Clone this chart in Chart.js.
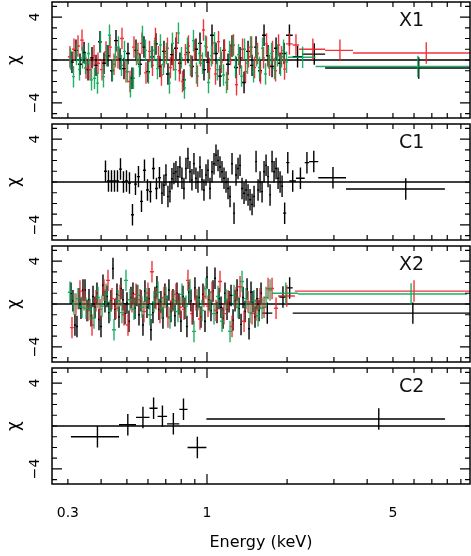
<!DOCTYPE html>
<html><head><meta charset="utf-8">
<script src="https://cdn.jsdelivr.net/npm/chart.js@4.4.1/dist/chart.umd.min.js"></script>
<style>
html,body{margin:0;padding:0;background:#fff;}
#wrap{position:relative;width:471px;height:556px;overflow:hidden;}
canvas{position:absolute;left:0;}
</style></head><body><div id="wrap">
<canvas id="p0" width="471" height="120" style="top:0px"></canvas>
<canvas id="p1" width="471" height="120" style="top:122px"></canvas>
<canvas id="p2" width="471" height="120" style="top:244px"></canvas>
<canvas id="p3" width="471" height="190" style="top:366px"></canvas>
</div>
<script>
// ---------- axis / tick data ----------
const xTickValues = [0.3,0.4,0.5,0.6,0.7,0.8,0.9,1,2,3,4,5,6,7,8,9];
const xMajorTicks = [1];
const xLabelValues = [0.3,1,5];
const yTickValues = [-5,-4,-3,-2,-1,0,1,2,3,4,5];
const yMajorTicks = [-4,4];
const yLabelValues = [-4,4];
const panelNames = ['X1','C1','X2','C2'];

// ---------- panel X1 ----------
const x1BlackEdges = [0.3055,0.3162,0.3274,0.3390,0.3510,0.3633,0.3761,0.3893,0.4030,0.4172,
0.4319,0.4471,0.4629,0.4792,0.4960,0.5135,0.5316,0.5503,0.5696,0.5897,
0.6105,0.6320,0.6542,0.6772,0.7011,0.7257,0.7513,0.7778,0.8051,0.8335,
0.8629,0.8934,0.9250,0.9576,0.9913,1.0264,1.0625,1.1000,1.1388,1.1790,
1.2206,1.2636,1.3082,1.3543,1.4021,1.4512,1.5023,1.5553,1.6101,1.6668,
1.7256,1.7864,1.8494,1.9145,1.9819,2.10,2.28,2.78,9.72];
const x1BlackResid = [-0.2,0.9,-0.4,0.7,-0.9,0.2,-0.5,1.7,-0.3,0.4,
-1.0,1.8,0.1,-0.8,0.6,-1.7,0.9,-0.4,1.2,-1.1,
0.3,1.5,-0.6,0.8,-1.3,0.5,1.1,-0.3,-1.85,0.7,
-0.6,1.0,1.55,-0.9,-0.2,2.3,0.6,-1.5,0.9,-0.4,
1.3,-0.7,0.2,-2.1,0.8,-0.5,1.2,-1.0,2.3,0.4,
-0.6,1.1,-0.3,0.6,2.3,0.3,0.55,-0.75];

const x1RedEdges = [0.3000,0.3109,0.3218,0.3332,0.3449,0.3571,0.3697,0.3826,0.3961,0.4101,
0.4245,0.4395,0.4549,0.4709,0.4875,0.5047,0.5224,0.5408,0.5599,0.5796,0.6000,
0.6158,0.6320,0.6486,0.6656,0.6831,0.7011,0.7195,0.7384,0.7578,0.7778,
0.7982,0.8192,0.8407,0.8629,0.8856,0.9090,0.9330,0.9576,0.9828,1.0087,
1.0353,1.0625,1.0905,1.1193,1.1487,1.1790,1.2100,1.2419,1.2746,1.3082,
1.3426,1.3780,1.4143,1.4512,1.4898,1.5285,1.5692,1.6101,1.6529,1.6960,
1.7410,1.7864,1.8339,1.8817,1.9317,1.9819,2.10,2.22,2.78,3.54,9.80];
const x1RedResid = [0.3,1.0,1.3,1.85,-0.75,-0.9,0.4,-0.3,-0.9,0.75,
1.2,-0.4,0.2,2.0,-1.1,-2.0,1.2,0.6,1.55,-1.2,
0.8,-0.5,2.0,0.3,-1.4,0.3,1.1,-0.7,0.0,1.6,
-1.0,-2.0,0.5,1.3,-0.6,0.9,-1.5,0.4,2.8,1.2,
-0.8,0.6,-1.3,1.7,-0.2,0.9,-1.8,0.5,1.4,-2.3,
-0.4,1.0,-1.1,0.3,1.2,-0.7,0.6,-1.2,0.2,1.5,
-0.5,0.8,-1.0,1.4,0.3,-0.85,1.5,1.4,1.0,0.9,0.65];

const x1GreenEdges = [0.3027,0.3109,0.3190,0.3274,0.3361,0.3449,0.3541,0.3633,0.3729,0.3826,
0.3927,0.4030,0.4136,0.4245,0.4357,0.4471,0.4589,0.4709,0.4833,0.4960,
0.5091,0.5224,0.5362,0.5503,0.5647,0.5796,0.5948,0.6105,0.6265,0.6430,
0.6598,0.6772,0.6950,0.7133,0.7320,0.7513,0.7710,0.7913,0.8121,0.8335,
0.8554,0.8780,0.9011,0.9250,0.9494,0.9743,1.0000,1.0264,1.0533,1.0810,
1.1096,1.1388,1.1688,1.1996,1.2312,1.2636,1.2969,1.3311,1.3661,1.4021,
1.4389,1.4765,1.5158,1.5553,1.5966,1.6383,1.6818,1.7256,1.7714,1.8176,
1.8660,1.9145,1.9650,2.0165,2.56,9.85];
const x1GreenResid = [0.1,-1.55,0.5,-0.9,0.2,-0.3,0.6,-1.85,-1.7,-2.15,
1.7,-1.55,0.4,2.3,-0.9,0.3,1.2,-0.5,0.8,-1.1,
-2.5,-1.7,0.5,-0.6,2.2,0.9,-1.2,0.3,0.9,-0.8,
1.4,-0.4,0.6,-2.15,1.55,-0.9,2.5,0.2,-2.6,1.1,
-0.5,1.8,-1.2,0.6,-0.3,1.3,-2.1,0.4,1.6,-0.9,
0.2,-1.4,-2.1,0.8,1.3,-0.6,0.5,-1.5,1.0,-0.3,
1.2,-1.1,0.4,-0.7,1.1,-1.3,0.2,0.6,-0.8,0.4,
-0.5,0.9,-0.2,0.25,-0.6];

// ---------- panel C1 ----------
const c1Edges = [0.4101,0.4208,0.4319,0.4433,0.4549,0.4669,0.4792,0.4917,0.5047,0.5179,
0.5316,0.5455,0.5599,0.5746,0.5897,0.6052,0.6211,0.6374,0.6542,0.6714,
0.6831,0.6950,0.7072,0.7195,0.7320,0.7448,0.7578,0.7710,0.7845,0.7982,
0.8121,0.8263,0.8407,0.8554,0.8704,0.8856,0.9011,0.9169,0.9330,0.9494,
0.9659,0.9828,1.0000,1.0175,1.0353,1.0533,1.0717,1.0905,1.1096,1.1290,
1.1487,1.1688,1.1893,1.2100,1.2312,1.2527,1.2746,1.2969,1.3196,1.3426,
1.3661,1.3900,1.4143,1.4389,1.4642,1.4898,1.5158,1.5422,1.5692,1.5966,
1.6245,1.6529,1.6818,1.7112,1.7410,1.7714,1.8024,1.8339,1.8660,1.8985,
1.9317,1.985,2.040,2.160,2.330,2.420,2.620,3.330,7.840];
const c1Resid = [1.0,0.1,0.1,0.1,0.1,1.2,0.0,0.1,-0.1,-3.05,
-0.2,0.5,-1.8,1.1,-0.75,-0.9,1.25,-0.6,0.4,
-1.05,-0.3,0.65,-1.35,-0.9,0.3,0.8,0.95,0.5,1.4,
0.35,-0.6,1.25,2.2,0.95,0.2,1.7,0.35,0.0,1.4,
0.2,-0.75,0.65,1.1,-0.6,0.95,1.7,2.5,2.0,1.4,
0.95,0.35,0.0,-0.6,-1.35,1.7,-2.9,0.65,1.25,1.55,
-0.6,-1.05,-0.75,-1.2,-1.65,-2.1,-1.35,1.9,-0.75,0.0,
-0.9,0.95,1.55,0.5,-1.2,1.9,0.95,1.25,0.35,0.0,-0.4,
-2.9,1.8,0.1,0.35,1.8,1.9,0.4,-0.65];

// ---------- panel X2 ----------
const x2BlackEdges = [0.3055,0.3109,0.3162,0.3218,0.3274,0.3332,0.3390,0.3449,0.3510,0.3571,
0.3633,0.3697,0.3761,0.3826,0.3893,0.3961,0.4030,0.4101,0.4172,0.4245,
0.4319,0.4395,0.4471,0.4549,0.4629,0.4709,0.4792,0.4875,0.4960,0.5047,
0.5135,0.5224,0.5316,0.5408,0.5503,0.5599,0.5696,0.5796,0.5897,0.6000,
0.6105,0.6211,0.6320,0.6430,0.6542,0.6656,0.6772,0.6890,0.7011,0.7133,
0.7257,0.7384,0.7513,0.7644,0.7778,0.7913,0.8051,0.8192,0.8335,0.8481,
0.8629,0.8780,0.8934,0.9090,0.9250,0.9412,0.9576,0.9743,0.9913,1.0087,
1.0264,1.0443,1.0625,1.0810,1.1000,1.1193,1.1388,1.1587,1.1790,1.1996,
1.2206,1.2419,1.2636,1.2857,1.3082,1.3311,1.3543,1.3780,1.4021,1.4266,
1.4512,1.4765,1.5023,1.5285,1.5553,1.5825,1.6101,1.76,1.87,1.99,2.10,9.78];
const x2BlackResid = [1.0,0.3,-1.95,-2.1,0.5,-0.4,1.3,1.3,-0.6,0.4,
-1.1,0.7,-0.3,1.0,-1.45,-2.1,1.75,0.2,0.7,-0.8,
0.3,3.3,-0.5,0.9,-1.2,1.45,0.4,-0.9,0.1,-1.6,
0.6,1.0,-0.4,0.8,-1.0,0.3,-1.95,1.2,-0.3,0.5,
-2.4,-0.8,0.6,1.6,-0.5,0.2,-1.3,0.9,-0.2,1.3,
-0.7,0.4,-1.1,1.0,0.0,-1.6,0.7,-0.4,-2.1,1.1,
0.3,-0.9,1.5,-0.2,0.6,-1.2,0.9,-1.6,2.5,0.4,
-0.6,1.2,2.4,-0.8,0.5,-0.3,-1.3,1.0,-0.5,0.2,
0.8,-1.5,0.3,1.3,-0.4,-1.9,0.6,-0.7,1.4,-2.3,
1.1,0.2,-1.2,0.5,-0.6,1.0,
-0.85,null,0.65,1.5,-0.85];

const x2RedEdges = [0.3055,0.3162,0.3274,0.3390,0.3510,0.3633,0.3761,0.3893,0.4030,0.4172,
0.4319,0.4471,0.4629,0.4792,0.4960,0.5135,0.5316,0.5503,0.5696,0.5897,
0.6105,0.6320,0.6542,0.6772,0.7011,0.7257,0.7513,0.7778,0.8051,0.8335,
0.8629,0.8934,0.9250,0.9576,0.9913,1.0264,1.0625,1.1000,1.1388,1.1790,
1.2206,1.2636,1.3082,1.3543,1.4021,1.4512,1.5023,1.5553,1.6101,1.6668,
1.7256,1.7864,1.8494,2.14,9.86];
const x2RedResid = [-2.2,0.0,1.2,0.4,-0.6,-1.95,0.3,-0.5,1.3,2.2,
0.5,-0.4,0.8,-1.0,-1.95,0.2,0.9,0.4,-0.7,1.0,
3.0,0.5,-0.8,0.6,-1.2,0.25,0.9,-0.3,-0.5,2.2,
-0.9,0.4,-1.4,0.7,-0.2,1.1,-0.6,2.1,-0.9,0.3,
-2.1,0.6,1.6,-1.6,0.2,-0.9,-0.55,0.5,-0.3,1.45,
1.45,-0.4,0.75,1.2];

const x2GreenEdges = [0.3000,0.3109,0.3218,0.3332,0.3449,0.3571,0.3697,0.3826,0.3961,0.4101,
0.4245,0.4395,0.4549,0.4709,0.4875,0.5047,0.5224,0.5408,0.5599,0.5796,
0.6000,0.6211,0.6430,0.6656,0.6890,0.7133,0.7384,0.7644,0.7913,0.8192,
0.8481,0.8780,0.9090,0.9412,0.9743,1.0087,1.0443,1.0810,1.1193,1.1587,
1.1996,1.2419,1.2857,1.3311,1.3780,1.4266,1.4765,1.5285,1.5825,1.6383,
1.6960,1.7557,2.20,9.50];
const x2GreenResid = [1.1,0.0,0.5,-0.3,-0.4,-0.5,-1.3,0.6,-0.2,0.9,
-0.6,-2.4,0.3,-0.8,2.2,0.4,-0.5,0.8,-0.3,0.5,
-1.0,0.2,1.1,-0.4,0.6,-1.3,0.3,-0.7,0.9,-0.2,
1.3,-2.55,0.4,-0.6,1.45,0.2,-0.9,0.7,-1.6,0.4,
-2.55,0.8,-0.3,2.1,0.5,-0.8,0.3,-1.1,-0.4,0.6,
1.3,1.0,0.93];

// ---------- panel C2 ----------
const c2Edges = [0.308,0.467,0.541,0.608,0.652,0.708,0.787,0.845,0.995,7.85];
const c2Resid = [-1.0,0.12,0.8,1.65,0.9,0.2,1.55,-2.0,0.65];

// ---------- helpers ----------
const BLACK = '#000000', RED = 'rgba(238,24,32,0.88)', GREEN = 'rgba(0,165,80,0.88)';
const FONT = "'DejaVu Sans', sans-serif";

function binsToPoints(edges, vals){
  const pts = [];
  for (let i = 0; i < vals.length; i++){
    if (vals[i] === null) continue;
    const lo = edges[i], hi = edges[i+1];
    pts.push({x:(lo+hi)/2, y:vals[i], lo:lo, hi:hi});
  }
  return pts;
}
function series(edges, vals, color){
  return {type:'scatter', data:binsToPoints(edges, vals), borderColor:color, backgroundColor:color,
          pointRadius:0, pointHoverRadius:0, showLine:false, errBars:true};
}
function zeroLine(){
  return {type:'line', data:[{x:0.1,y:0},{x:20,y:0}], borderColor:'#000', borderWidth:1.4,
          pointRadius:0, fill:false, order:10};
}

const errPlugin = {
  id:'errbars',
  afterDatasetsDraw(chart){
    const {ctx, chartArea:a} = chart; const x = chart.scales.x, y = chart.scales.y;
    ctx.save();
    ctx.beginPath(); ctx.rect(a.left, a.top, a.right-a.left, a.bottom-a.top); ctx.clip();
    chart.data.datasets.forEach(ds => {
      if (!ds.errBars) return;
      ctx.strokeStyle = ds.borderColor; ctx.lineWidth = 1.4;
      ctx.beginPath();
      ds.data.forEach(p => {
        const py = y.getPixelForValue(p.y), px = x.getPixelForValue(p.x);
        ctx.moveTo(x.getPixelForValue(p.lo), py); ctx.lineTo(x.getPixelForValue(p.hi), py);
        ctx.moveTo(px, y.getPixelForValue(p.y-1)); ctx.lineTo(px, y.getPixelForValue(p.y+1));
      });
      ctx.stroke();
    });
    ctx.restore();
  }
};
const framePlugin = {
  id:'frame',
  afterDraw(chart, args, opts){
    const {ctx, chartArea:a} = chart; const x = chart.scales.x, y = chart.scales.y;
    ctx.save();
    ctx.strokeStyle = '#000'; ctx.lineWidth = 1.5;
    ctx.strokeRect(a.left, a.top, a.right-a.left, a.bottom-a.top);
    ctx.lineWidth = 1.2; ctx.beginPath();
    xTickValues.forEach(v => {
      const px = x.getPixelForValue(v), L = xMajorTicks.includes(v) ? 10 : 5;
      ctx.moveTo(px, a.top); ctx.lineTo(px, a.top+L);
      ctx.moveTo(px, a.bottom); ctx.lineTo(px, a.bottom-L);
    });
    yTickValues.forEach(v => {
      const py = y.getPixelForValue(v), L = yMajorTicks.includes(v) ? 10 : 5;
      ctx.moveTo(a.left, py); ctx.lineTo(a.left+L, py);
      ctx.moveTo(a.right, py); ctx.lineTo(a.right-L, py);
    });
    ctx.stroke();
    ctx.fillStyle = '#111'; ctx.font = '19px ' + FONT;
    ctx.textAlign = 'left'; ctx.textBaseline = 'alphabetic';
    ctx.fillText(opts.label, a.right-71, a.top+24);
    ctx.restore();
  }
};

function makePanel(id, datasets, label, bottom){
  return new Chart(document.getElementById(id), {
    data:{datasets:[zeroLine()].concat(datasets)},
    plugins:[errPlugin, framePlugin],
    options:{
      responsive:false, animation:false, devicePixelRatio:1,
      layout:{padding:{top:2, right:1, bottom: bottom ? 0 : 2, left:0}},
      plugins:{legend:{display:false}, tooltip:{enabled:false}, frame:{label:label}},
      scales:{
        x:{type:'logarithmic', min:0.2615, max:9.74, display: bottom,
           afterBuildTicks: s => { s.ticks = xTickValues.map(v => ({value:v})); },
           afterFit: s => { if (bottom) { s.height = 72; } else { s.height = 0; }
                            s.paddingLeft = 0; s.paddingRight = 0; },
           grid:{display:false, drawTicks:false}, border:{display:false},
           ticks:{autoSkip:false, maxRotation:0, minRotation:0, padding:21, color:'#000',
                  font:{family:FONT, size:14},
                  callback: v => xLabelValues.includes(v) ? String(v) : ''},
           title:{display:true, text:'Energy (keV)', color:'#000', font:{family:FONT, size:16},
                  padding:{top:0, bottom:4}}},
        y:{type:'linear', min:-5.4, max:5.4,
           afterBuildTicks: s => { s.ticks = yLabelValues.map(v => ({value:v})); },
           afterFit: s => { s.width = 52; s.paddingTop = 0; s.paddingBottom = 0; },
           grid:{display:false, drawTicks:false}, border:{display:false},
           ticks:{minRotation:90, maxRotation:90, crossAlign:'center', padding:6, color:'#000',
                  font:{family:FONT, size:14},
                  callback: v => (v < 0 ? '\u2212' : '') + Math.abs(v)},
           title:{display:true, text:'\u03c7', color:'#000', font:{family:FONT, size:17},
                  padding:{top:4, bottom:0}}}
      }
    }
  });
}

makePanel('p0', [series(x1BlackEdges, x1BlackResid, BLACK), series(x1RedEdges, x1RedResid, RED),
                 series(x1GreenEdges, x1GreenResid, GREEN)], panelNames[0], false);
makePanel('p1', [series(c1Edges, c1Resid, BLACK)], panelNames[1], false);
makePanel('p2', [series(x2BlackEdges, x2BlackResid, BLACK), series(x2RedEdges, x2RedResid, RED),
                 series(x2GreenEdges, x2GreenResid, GREEN)], panelNames[2], false);
makePanel('p3', [series(c2Edges, c2Resid, BLACK)], panelNames[3], true);
</script></body></html>
